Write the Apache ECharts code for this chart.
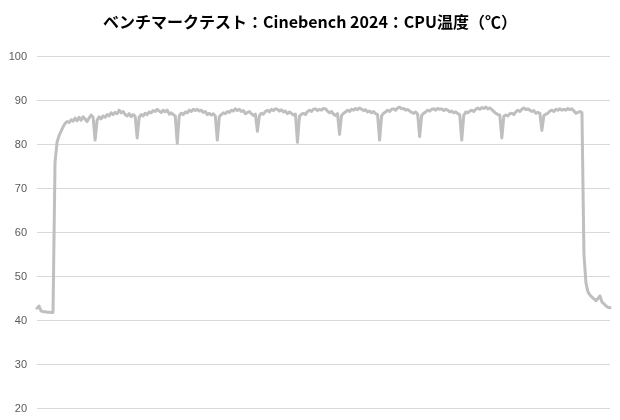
<!DOCTYPE html>
<html><head><meta charset="utf-8">
<script src="https://cdn.jsdelivr.net/npm/echarts@6/dist/echarts.min.js"></script>
<style>html,body{margin:0;padding:0;background:#fff}#c{width:620px;height:420px}</style>
</head><body><div id="c"></div>
<script>
const titleText = 'ベンチマークテスト：Cinebench 2024：CPU温度（℃）';
const yTicks = [20, 30, 40, 50, 60, 70, 80, 90, 100];
const cpuTemp = [
42.8,43.3,42.2,42.0,42.0,41.9,41.9,41.8,41.8,76.0,
80.5,82.0,83.0,84.0,84.8,85.2,85.0,85.6,85.3,86.0,
85.4,86.2,85.5,86.3,85.8,85.2,86.0,86.7,86.2,81.0,
85.5,86.3,85.8,86.5,86.2,86.8,86.5,87.2,86.8,87.3,
87.0,87.8,87.2,87.5,86.8,86.5,87.0,86.3,86.8,86.4,
81.5,86.2,86.8,86.5,87.1,86.8,87.4,87.2,87.7,87.5,
88.0,87.6,87.3,87.8,87.4,87.8,86.9,87.2,86.8,86.5,
80.3,86.5,87.1,86.8,87.4,87.2,87.8,87.5,88.0,87.7,
88.0,87.6,87.8,87.3,87.5,86.8,87.1,86.7,87.0,86.5,
81.0,86.3,86.8,87.2,87.0,87.5,87.3,87.8,87.6,88.1,
87.7,88.0,87.5,87.7,87.0,87.3,87.5,87.0,86.6,86.9,
83.0,86.5,87.1,86.9,87.5,87.8,87.4,88.0,87.7,88.1,
88.0,87.6,87.9,87.4,87.6,87.0,87.4,87.1,86.7,86.9,
80.5,86.4,86.9,87.1,86.8,87.5,87.8,87.5,88.0,88.1,
87.7,88.0,87.8,88.2,88.1,87.6,87.2,87.5,86.9,86.6,
87.0,82.3,86.6,87.1,87.4,87.8,87.5,88.0,87.8,88.2,
87.9,88.3,88.0,87.7,87.9,87.4,87.6,87.2,87.5,87.0,
86.8,81.0,86.5,87.1,87.4,87.8,87.5,88.0,88.1,87.8,
88.3,88.5,88.1,88.2,87.8,88.0,87.6,87.3,87.1,87.4,
86.9,81.8,86.6,87.1,87.4,87.8,87.6,88.0,88.1,87.8,
88.2,88.0,88.1,87.7,88.0,87.8,87.4,87.6,87.2,87.4,
87.0,86.8,81.0,86.6,87.4,87.2,87.6,87.8,87.5,88.0,
88.3,88.0,88.4,88.2,88.5,88.1,88.3,87.9,87.5,87.1,
86.8,86.7,81.5,86.4,86.7,86.5,87.0,87.1,86.8,87.4,
87.8,87.5,88.0,88.3,87.9,88.1,87.8,87.5,87.7,87.1,
87.3,87.1,83.2,86.6,86.9,87.1,87.6,87.8,87.5,88.0,
87.8,88.1,87.8,88.0,87.8,88.2,87.9,88.1,87.6,87.1,
87.3,87.5,87.2,55.0,48.5,46.5,45.8,45.3,44.9,44.5,
45.0,45.6,44.2,43.8,43.3,43.0,42.9
];
const samples = cpuTemp.map((_, i) => String(i + 1));

const chart = echarts.init(document.getElementById('c'), null, {renderer: 'canvas'});
chart.setOption({
  animation: false,
  backgroundColor: '#ffffff',
  title: {
    text: titleText, left: 'center', top: 9,
    textStyle: {fontFamily: 'Noto Sans CJK JP', fontWeight: 'bold', fontSize: 16, color: '#000'}
  },
  grid: {left: 37, right: 10, top: 56.5, bottom: 11.5, containLabel: false},
  xAxis: {
    type: 'category', data: samples, boundaryGap: false,
    axisLine: {show: false}, axisTick: {show: false}, axisLabel: {show: false}, splitLine: {show: false}
  },
  yAxis: {
    type: 'value', min: yTicks[0], max: yTicks[yTicks.length - 1], interval: 10,
    axisLine: {show: false}, axisTick: {show: false},
    axisLabel: {color: '#595959', fontSize: 11, fontFamily: 'Liberation Sans', margin: 10},
    splitLine: {lineStyle: {color: '#d9d9d9', width: 1}}
  },
  series: [{
    type: 'line', data: cpuTemp, showSymbol: false, symbol: 'none',
    lineStyle: {color: '#bfbfbf', width: 3, join: 'round', cap: 'round'}
  }]
});
</script></body></html>
